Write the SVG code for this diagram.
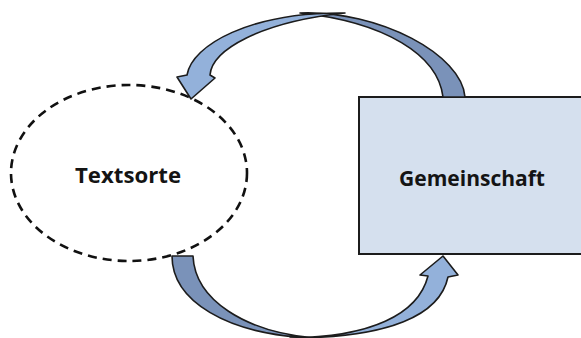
<svg xmlns="http://www.w3.org/2000/svg" width="581" height="338" viewBox="0 0 581 338">
<style>
.lbl{font-family:"Open Sans","Liberation Sans",sans-serif;font-weight:bold;font-size:22px;fill:#141414;text-anchor:middle}
.dark{fill:#7A92B9;stroke:#1c1c1c;stroke-width:1.6;stroke-linejoin:round}
.light{fill:#93B1DA;stroke:#1c1c1c;stroke-width:1.6;stroke-linejoin:round}
</style>
<rect width="581" height="338" fill="#ffffff"/>
<g id="textsorte">
<ellipse cx="129" cy="173" rx="118" ry="88" fill="none" stroke="#111" stroke-width="2.6" stroke-dasharray="9 6"/>
<text class="lbl" x="128" y="183" textLength="106" lengthAdjust="spacingAndGlyphs">Textsorte</text>
</g>
<g id="gemeinschaft">
<rect x="359" y="97" width="226" height="157" fill="#D5E0EE" stroke="#1c1c1c" stroke-width="2"/>
<text class="lbl" x="472" y="186" textLength="146" lengthAdjust="spacingAndGlyphs">Gemeinschaft</text>
</g>
<g id="connectors">
<path class="dark" d="M 300 13 C 380 10, 462 55, 465 97 L 443 97 C 438 55, 385 22, 300 13 Z"/>
<path class="light" d="M 345 13 C 250 12, 192 45, 187 75 L 177 77 L 191 99 L 215 78 L 210 75 C 212 50, 260 22, 345 13 Z"/>
<path class="dark" d="M 172 256 C 172 300, 225 335, 315 338 C 245 332, 195 300, 193 256 Z"/>
<path class="light" d="M 290 338 C 390 338, 440 315, 448 277 L 458 275 L 443 256 L 420 275 L 428 276 C 418 315, 370 337, 290 338 Z"/>
</g>
</svg>
